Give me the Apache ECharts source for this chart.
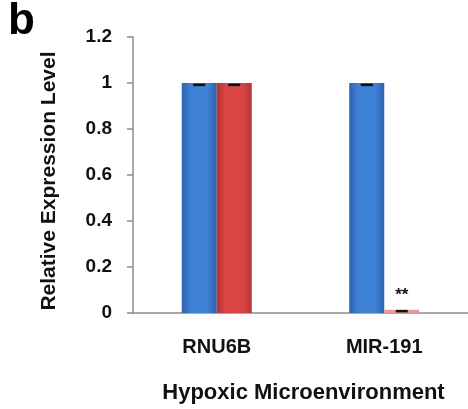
<!DOCTYPE html>
<html><head><meta charset="utf-8">
<script src="https://cdn.jsdelivr.net/npm/echarts@6/dist/echarts.min.js"></script>
<style>html,body{margin:0;padding:0;background:#fff}#c{width:468px;height:409px}</style>
</head><body><div id="c"></div>
<script>
const categories = ['RNU6B', 'MIR-191'];
const normoxiaValues = [1.0, 1.0];
const hypoxiaValues = [1.0, 0.014];
const normoxiaErr = [0.008, 0.008];
const hypoxiaErr = [0.008, 0.006];
const yTicks = [0, 0.2, 0.4, 0.6, 0.8, 1, 1.2];
const significance = ['', '**'];

const font = 'Liberation Sans, Arial, sans-serif';
const chart = echarts.init(document.getElementById('c'));

function grad(edge, mid) {
  return new echarts.graphic.LinearGradient(0, 0, 1, 0, [
    {offset: 0, color: edge}, {offset: 0.25, color: mid}, {offset: 0.75, color: mid}, {offset: 1, color: edge}
  ]);
}
const blue = grad('#2d62ad', '#3e80d4');
const red = grad('#b53434', '#d94545');
const pink = '#e89a9a';

function errSeries(vals, errs, offset) {
  return {
    type: 'custom', z: 5,
    data: vals.map((v, i) => [i, v - errs[i]]),
    renderItem: function (params, api) {
      const p = api.coord([api.value(0), api.value(1)]);
      return {type: 'line', shape: {x1: p[0] + offset - 6, y1: p[1], x2: p[0] + offset + 6, y2: p[1]},
        style: {stroke: '#111', lineWidth: 2.5}};
    }
  };
}

chart.setOption({
  animation: false,
  grid: {left: 133, top: 37, height: 278, width: 338},
  xAxis: {
    type: 'category', data: categories,
    axisLine: {lineStyle: {color: '#8c8c8c', width: 1.5}},
    axisTick: {show: false},
    axisLabel: {margin: 24, fontSize: 20, fontWeight: 'bold', color: '#111', fontFamily: font},
    name: 'Hypoxic Microenvironment', nameLocation: 'middle', nameGap: 69,
    nameTextStyle: {fontSize: 22, fontWeight: 'bold', color: '#111', fontFamily: font, padding: [0, 0, 0, 6]}
  },
  yAxis: {
    type: 'value', min: 0, max: 1.2, interval: 0.2,
    splitLine: {show: false},
    axisLine: {show: true, lineStyle: {color: '#8c8c8c', width: 1.5}},
    axisTick: {show: true, inside: false, length: 6, lineStyle: {color: '#8c8c8c', width: 1.5}},
    axisLabel: {margin: 21, fontSize: 19, fontWeight: 'bold', color: '#111', fontFamily: font,
      formatter: v => { const t = yTicks.find(x => Math.abs(x - v) < 1e-9); return t === undefined ? '' : String(t); }},
    name: 'Relative Expression Level', nameLocation: 'middle', nameGap: 73,
    nameTextStyle: {fontSize: 21, fontWeight: 'bold', color: '#111', fontFamily: font, padding: [0, 12, 0, 0]}
  },
  series: [
    {type: 'bar', barWidth: 35, barGap: '0%', data: normoxiaValues, itemStyle: {color: blue}},
    {type: 'bar', barWidth: 35, barGap: '0%',
      data: hypoxiaValues.map((v, i) => ({value: v, itemStyle: {color: v < 0.1 ? pink : red},
        label: {show: !!significance[i], position: 'top', distance: 6, formatter: significance[i],
          fontSize: 17, fontWeight: 'bold', color: '#111', fontFamily: font}})),
      itemStyle: {color: red}},
    errSeries(normoxiaValues, normoxiaErr, -17.5),
    errSeries(hypoxiaValues, hypoxiaErr, 17.5)
  ],
  graphic: [{type: 'text', left: 8, top: 0, style: {text: 'b', fontSize: 44, fontWeight: 'bold', fill: '#000', fontFamily: font}}]
});
</script></body></html>
